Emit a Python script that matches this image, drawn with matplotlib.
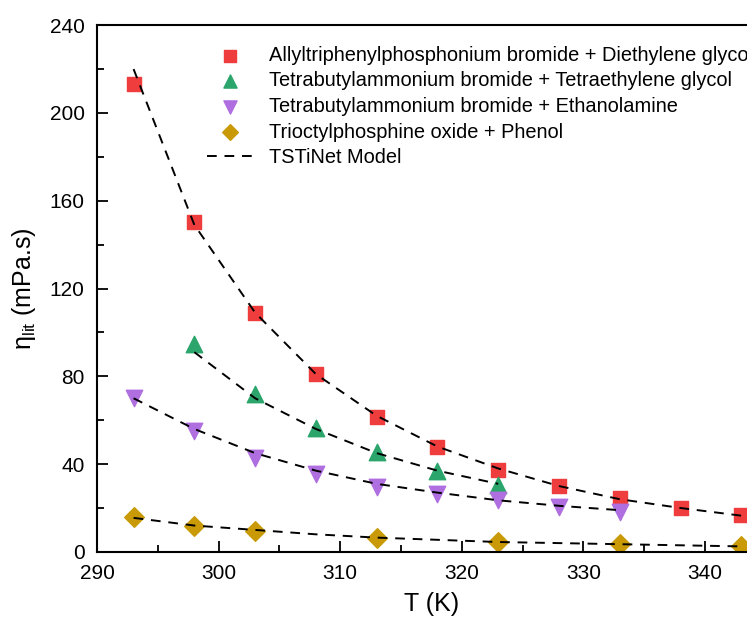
import numpy as np
import matplotlib
matplotlib.use('Agg')
import matplotlib.pyplot as plt
from matplotlib.ticker import MultipleLocator

plt.rcParams['font.family'] = ['Liberation Sans', 'DejaVu Sans']
plt.rcParams['mathtext.fontset'] = 'custom'
plt.rcParams['mathtext.rm'] = 'Liberation Sans'

# experimental data
T_red = [293, 298, 303, 308, 313, 318, 323, 328, 333, 338, 343]
eta_red = [213, 150.5, 109, 81, 61.5, 48, 37.5, 30, 24.5, 20, 17]
T_green = [298, 303, 308, 313, 318, 323]
eta_green = [94.5, 72, 56.5, 45.5, 37, 30.5]
T_purple = [293, 298, 303, 308, 313, 318, 323, 328, 333]
eta_purple = [70, 55, 43, 35.5, 29.5, 26.5, 23.5, 20.5, 18]
T_gold = [293, 298, 303, 313, 323, 333, 343]
eta_gold = [16, 12, 9.5, 6.5, 4.5, 3.5, 2.5]

# TSTiNet model curves
Tm_red = [293, 298, 303, 308, 313, 318, 323, 328, 333, 338, 343]
m_red = [220, 149, 109, 81, 62, 48, 38, 30, 24, 20, 16.5]
Tm_green = [298, 303, 308, 313, 318, 323]
m_green = [91, 70, 56, 45, 37, 31]
Tm_purple = [293, 298, 303, 308, 313, 318, 323, 328, 333]
m_purple = [70, 56, 45, 37, 31, 27, 23.5, 21, 19]
Tm_gold = [293, 298, 303, 308, 313, 318, 323, 328, 333, 338, 343]
m_gold = [15.5, 12, 10, 8, 6.5, 5.5, 4.5, 4, 3.5, 3, 2.5]

labels = ['Allyltriphenylphosphonium bromide + Diethylene glycol',
          'Tetrabutylammonium bromide + Tetraethylene glycol',
          'Tetrabutylammonium bromide + Ethanolamine',
          'Trioctylphosphine oxide + Phenol',
          'TSTiNet Model']

fig = plt.figure(figsize=(7.47, 6.3), dpi=100)
ax = fig.add_axes([0.13, 0.124, 0.895, 0.836])

dash = dict(color='k', lw=1.4, ls=(0, (5, 4)))
ax.plot(Tm_red, m_red, **dash)
ax.plot(Tm_green, m_green, **dash)
ax.plot(Tm_purple, m_purple, **dash)
l5, = ax.plot(Tm_gold, m_gold, **dash)

s1 = ax.scatter(T_red, eta_red, marker='s', s=110, color='#ef3d3d', zorder=1)
s2 = ax.scatter(T_green, eta_green, marker='^', s=140, color='#2ba56b', zorder=1)
s3 = ax.scatter(T_purple, eta_purple, marker='v', s=140, color='#b06fe0', zorder=1)
s4 = ax.scatter(T_gold, eta_gold, marker='D', s=100, color='#c99a06', zorder=1)

ax.set_xlim(290, 345)
ax.set_ylim(0, 240)
ax.xaxis.set_major_locator(MultipleLocator(10))
ax.xaxis.set_minor_locator(MultipleLocator(5))
ax.yaxis.set_major_locator(MultipleLocator(40))
ax.yaxis.set_minor_locator(MultipleLocator(20))
ax.tick_params(which='both', direction='in', labelsize=15, width=1.3, pad=9)
ax.tick_params(which='major', length=8)
ax.tick_params(which='minor', length=5)
for sp in ax.spines.values():
    sp.set_linewidth(1.5)

ax.set_xlabel('T (K)', fontsize=18, labelpad=6)
ax.set_ylabel(r'η$_{\mathregular{lit}}$ (mPa.s)', fontsize=18, labelpad=8)

fig.legend([s1, s2, s3, s4, l5], labels, loc='upper left',
           bbox_to_anchor=(0.266, 0.94), frameon=False, fontsize=14.4,
           markerscale=0.8, handlelength=2.3, handletextpad=0.8,
           labelspacing=0.33, borderaxespad=0)

fig.savefig('out.png', dpi=100)
